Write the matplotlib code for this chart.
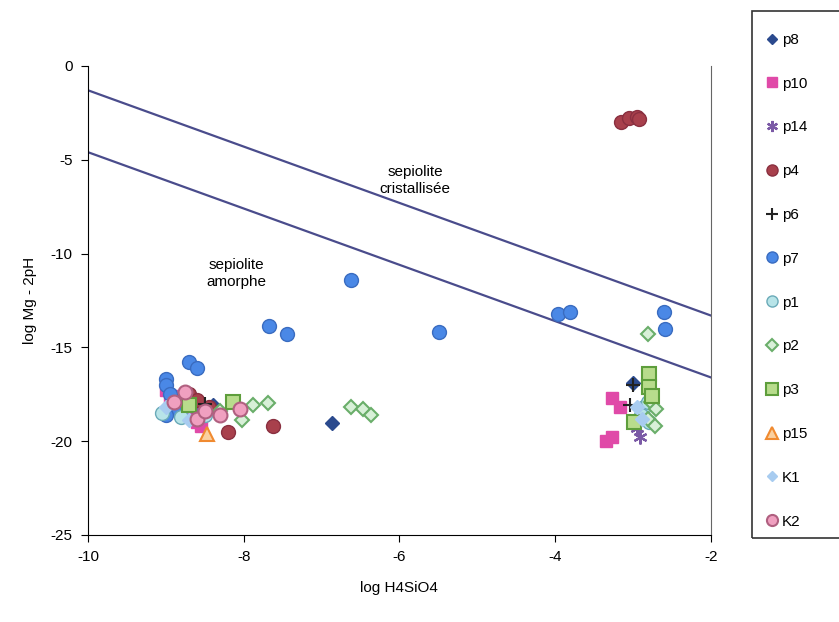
import numpy as np
import matplotlib.pyplot as plt
from matplotlib.lines import Line2D
from matplotlib.patches import Rectangle

plt.rcParams['font.family'] = ['Liberation Sans', 'DejaVu Sans']
plt.rcParams['axes.unicode_minus'] = False

# data (x = log H4SiO4, y = log Mg - 2pH)
p8_x = [-6.87, -8.9, -8.4, -3.0]
p8_y = [-19.05, -18.2, -18.1, -16.9]
p10_x = [-9.0, -8.95, -8.8, -8.75, -8.6, -8.55, -3.27, -3.17, -3.27, -3.34]
p10_y = [-17.3, -17.8, -17.6, -18.4, -19.0, -19.2, -17.7, -18.2, -19.8, -20.0]
p14_x = [-8.85, -8.6, -2.91, -2.95]
p14_y = [-18.0, -18.3, -19.8, -19.3]
p4_x = [-8.85, -8.7, -8.6, -8.45, -8.2, -7.63, -3.15, -3.05, -2.95, -2.92]
p4_y = [-17.9, -17.5, -17.8, -18.2, -19.5, -19.2, -3.0, -2.75, -2.7, -2.85]
p6_x = [-8.8, -8.5, -3.0, -3.04]
p6_y = [-18.2, -18.0, -17.0, -18.1]
p7_x = [-9.0, -9.0, -8.95, -8.7, -8.6, -8.9, -9.0, -8.7,
        -7.68, -7.44, -6.62, -5.49, -3.96, -3.81, -2.6, -2.58]
p7_y = [-16.7, -17.0, -17.5, -15.8, -16.1, -18.3, -18.6, -18.0,
        -13.85, -14.3, -11.4, -14.2, -13.2, -13.1, -13.1, -14.0]
p1_x = [-9.05, -8.8, -8.5, -2.85, -2.81, -2.79, -2.9]
p1_y = [-18.5, -18.7, -18.6, -18.2, -17.9, -19.0, -18.6]
p2_x = [-8.3, -8.02, -7.88, -7.69, -6.62, -6.47, -6.36,
        -2.81, -2.76, -2.7, -2.8, -2.72]
p2_y = [-18.4, -18.9, -18.1, -17.95, -18.2, -18.3, -18.6,
        -14.3, -17.9, -18.3, -18.8, -19.2]
p3_x = [-8.14, -8.7, -2.79, -2.79, -2.98, -2.75]
p3_y = [-17.9, -18.1, -16.4, -17.1, -19.0, -17.6]
p15_x = [-8.47]
p15_y = [-19.6]
K1_x = [-9.0, -8.7, -2.95, -2.88]
K1_y = [-18.2, -18.9, -18.2, -18.8]
K2_x = [-8.05, -8.3, -8.6, -8.9, -8.5, -8.75]
K2_y = [-18.3, -18.6, -18.8, -17.9, -18.4, -17.4]

labels = ['p8', 'p10', 'p14', 'p4', 'p6', 'p7', 'p1', 'p2', 'p3', 'p15', 'K1', 'K2']
xs = [p8_x, p10_x, p14_x, p4_x, p6_x, p7_x, p1_x, p2_x, p3_x, p15_x, K1_x, K2_x]
ys = [p8_y, p10_y, p14_y, p4_y, p6_y, p7_y, p1_y, p2_y, p3_y, p15_y, K1_y, K2_y]

# boundary lines (slope -1.5)
line_x = [-10, -2]
upper_y = [-1.3, -13.3]
lower_y = [-4.6, -16.6]

styles = {
    'p8': dict(marker='D', color='#2B4A8E', mec='#2B4A8E', ms=7),
    'p10': dict(marker='s', color='#E04AA8', mec='#E04AA8', ms=9),
    'p14': dict(marker=(6, 2, 0), color='#7B5AA6', mec='#7B5AA6', ms=10, mew=1.6),
    'p4': dict(marker='o', color='#A8404C', mec='#8A3040', ms=10),
    'p6': dict(marker='+', color='#222222', mec='#222222', ms=10, mew=1.5),
    'p7': dict(marker='o', color='#4A88E6', mec='#3A6CC0', ms=10),
    'p1': dict(marker='o', color='#B8E4E8', mec='#6AAAB8', ms=10),
    'p2': dict(marker='D', color='#D8F0D8', mec='#6AAE6A', ms=7.5, mew=1.5),
    'p3': dict(marker='s', color='#B8DC8C', mec='#5E9E3C', ms=10, mew=1.5),
    'p15': dict(marker='^', color='#FAD0A0', mec='#F08A30', ms=10, mew=1.5),
    'K1': dict(marker='D', color='#A8CCF0', mec='#A8CCF0', ms=7),
    'K2': dict(marker='o', color='#F0A0C0', mec='#B06080', ms=10, mew=1.5),
}

fig = plt.figure(figsize=(8.39, 6.22), dpi=100)
ax = fig.add_axes([0.105, 0.140, 0.742, 0.754])

ax.plot(line_x, upper_y, color='#4A4C8C', lw=1.6, zorder=1)
ax.plot(line_x, lower_y, color='#4A4C8C', lw=1.6, zorder=1)

for lab, x, y in zip(labels, xs, ys):
    st = styles[lab]
    ax.plot(x, y, linestyle='none', marker=st['marker'], mfc=st['color'],
            mec=st['mec'], ms=st['ms'], mew=st.get('mew', 1.0), zorder=3)

ax.text(-5.8, -6.1, 'sepiolite\ncristallisée', ha='center', va='center',
        fontsize=11, linespacing=1.3)
ax.text(-8.1, -11.05, 'sepiolite\namorphe', ha='center', va='center',
        fontsize=11, linespacing=1.3)

ax.set_xlim(-10, -2)
ax.set_ylim(-25, 0)
ax.set_xticks([-10, -8, -6, -4, -2])
ax.set_yticks([0, -5, -10, -15, -20, -25])
ax.tick_params(direction='out', length=5, labelsize=11, pad=6)
ax.spines['top'].set_visible(False)
ax.spines['right'].set_color('#666666')
ax.set_xlabel('log H4SiO4', fontsize=11, labelpad=12)
ax.set_ylabel('log Mg - 2pH', fontsize=11, labelpad=10)

# legend in a box cut by the right edge
fig.patches.append(Rectangle((752 / 839, 1 - 538 / 622), 0.2, (538 - 11) / 622,
                             transform=fig.transFigure, fill=False,
                             edgecolor='#333333', lw=1.2))
handles = []
for lab in labels:
    st = styles[lab]
    handles.append(Line2D([], [], linestyle='none', marker=st['marker'],
                          mfc=st['color'], mec=st['mec'],
                          ms=st['ms'] * 0.8, mew=st.get('mew', 1.0)))
fig.legend(handles, labels, loc='upper left', bbox_to_anchor=(0.905, 0.957),
           frameon=False, fontsize=11, labelspacing=1.95, handlelength=0.8,
           handletextpad=0.3, borderaxespad=0)

fig.savefig('out.png', dpi=100)
